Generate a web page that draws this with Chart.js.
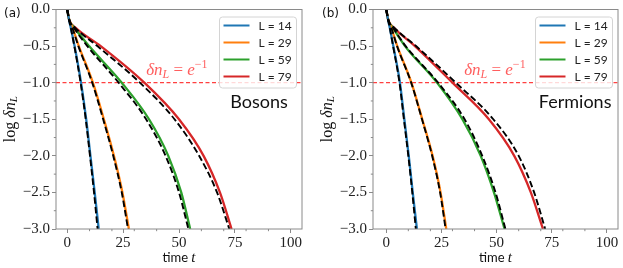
<!DOCTYPE html>
<html><head><meta charset="utf-8">
<script src="https://cdn.jsdelivr.net/npm/chart.js@4.4.1/dist/chart.umd.min.js"></script>
<style>
html,body{margin:0;padding:0;background:#fff;width:623px;height:268px;overflow:hidden}
canvas{position:absolute;top:0}
#ca{left:0}
#cb{left:311px}
</style></head><body>
<canvas id="ca" width="311" height="268"></canvas>
<canvas id="cb" width="312" height="268"></canvas>
<script>
// ---- data ----
const LEVELS = [0, -0.15, -0.25, -0.5, -1, -1.5, -2, -2.5, -3];   // log δn_L
const SERIES_LABELS = ['L = 14', 'L = 29', 'L = 59', 'L = 79'];
const SERIES_COLORS = ['#1f77b4', '#ff7f0e', '#2ca02c', '#d62728'];

// Bosons: time t at which each curve reaches LEVELS
const bosonT14 = [0, 0.9, 1.6, 3.3, 6.2, 8.5, 10.4, 12.3, 14.1];
const bosonT29 = [0, 1.0, 2.4, 5.2, 11.5, 16.4, 20.9, 24.7, 27.6];
const bosonT59 = [0, 1.0, 3.2, 9.8, 24.4, 36.6, 45.2, 51.0, 55.0];
const bosonT79 = [0, 1.0, 3.8, 15.0, 34.5, 50.0, 61.0, 68.3, 73.5];
const bosonFitT14 = [0, 0.9, 1.6, 3.2, 6.0, 8.3, 10.2, 12.0, 13.6];
const bosonFitT29 = [0, 1.0, 2.3, 5.0, 11.2, 16.1, 20.6, 24.4, 27.2];
const bosonFitT59 = [0, 1.0, 3.0, 9.0, 23.0, 35.3, 44.0, 50.0, 54.2];
const bosonFitT79 = [0, 1.0, 3.6, 13.5, 32.5, 48.0, 59.0, 67.0, 72.5];

// Fermions
const fermionT14 = [0, 0.9, 1.6, 3.2, 6.2, 8.2, 10.2, 12.0, 13.9];
const fermionT29 = [0, 1.0, 2.3, 5.0, 11.4, 16.3, 21.0, 24.6, 27.2];
const fermionT59 = [0, 1.0, 3.0, 8.5, 23.0, 34.5, 42.8, 48.8, 53.6];
const fermionT79 = [0, 1.0, 3.5, 13.0, 30.0, 46.5, 58.0, 65.5, 71.0];
const fermionFitT14 = [0, 0.9, 1.6, 3.1, 6.0, 8.0, 10.0, 11.8, 13.4];
const fermionFitT29 = [0, 1.0, 2.3, 4.9, 11.3, 16.2, 20.8, 24.4, 26.9];
const fermionFitT59 = [0, 1.0, 3.1, 8.8, 23.5, 35.5, 43.5, 49.5, 54.0];
const fermionFitT79 = [0, 1.0, 3.7, 13.5, 31.5, 48.5, 60.0, 67.0, 72.0];

const THRESHOLD = -1;                 // log(e^-1)
const X_TICKS = [0, 25, 50, 75, 100];
const X_MINOR = [10, 20, 30, 40, 60, 70, 80, 90];
const Y_TICKS = [0, -0.5, -1, -1.5, -2, -2.5, -3];
const Y_MINOR = [-0.25, -0.75, -1.25, -1.75, -2.25, -2.75];

// ---- drawing ----
const SPINE = '#8a8a8a';
const SERIF = '"Liberation Serif", serif';
const SANS = 'Lato, "DejaVu Sans", sans-serif';

function drawRich(ctx, parts, x, y, align) {
  let w = 0;
  parts.forEach(p => { ctx.font = p.font; w += ctx.measureText(p.t).width; });
  let cx = align === 'center' ? x - w / 2 : (align === 'right' ? x - w : x);
  parts.forEach(p => {
    ctx.font = p.font;
    ctx.fillText(p.t, cx, y + (p.dy || 0));
    cx += ctx.measureText(p.t).width;
  });
}

const decor = {
  id: 'decor',
  afterDatasetsDraw(chart, args, o) {
    const ctx = chart.ctx, a = chart.chartArea;
    const xs = chart.scales.x, ys = chart.scales.y;
    ctx.save();
    // frame (spines)
    ctx.strokeStyle = SPINE; ctx.lineWidth = 1;
    ctx.strokeRect(a.left, a.top, a.right - a.left, a.bottom - a.top);
    // minor ticks
    ctx.beginPath();
    Y_MINOR.forEach(v => { const p = ys.getPixelForValue(v); ctx.moveTo(a.left, p); ctx.lineTo(a.left - 2.2, p); });
    X_MINOR.forEach(v => { const p = xs.getPixelForValue(v); ctx.moveTo(p, a.bottom); ctx.lineTo(p, a.bottom + 2.2); });
    ctx.stroke();

    // threshold label
    ctx.fillStyle = 'rgba(255,40,40,0.75)';
    ctx.textBaseline = 'alphabetic';
    const tx = xs.getPixelForValue(35.3), ty = ys.getPixelForValue(-0.89);
    drawRich(ctx, [
      {t: 'δn', font: 'italic 17px ' + SERIF},
      {t: 'L', font: 'italic 12px ' + SERIF, dy: 3},
      {t: ' = ', font: '17px ' + SERIF},
      {t: 'e', font: 'italic 17px ' + SERIF},
      {t: '−1', font: '12px ' + SERIF, dy: -7}
    ], tx, ty, 'left');

    // legend
    const lw = 77, lh = 71;
    const lx = a.right - 6 - lw, ly = a.top + 7;
    ctx.beginPath();
    ctx.roundRect(lx + 0.5, ly + 0.5, lw, lh, 3);
    ctx.fillStyle = 'rgba(255,255,255,0.8)';
    ctx.fill();
    ctx.strokeStyle = '#d4d4d4'; ctx.lineWidth = 1; ctx.stroke();
    ctx.textBaseline = 'middle';
    ctx.font = '12px ' + SANS;
    SERIES_LABELS.forEach((lab, i) => {
      const ry = ly + 9 + i * 17;
      ctx.strokeStyle = SERIES_COLORS[i]; ctx.lineWidth = 2;
      ctx.beginPath(); ctx.moveTo(lx + 4.5, ry); ctx.lineTo(lx + 30.5, ry); ctx.stroke();
      ctx.fillStyle = '#222';
      ctx.fillText(lab, lx + 39.5, ry + 0.5);
    });

    // panel name
    ctx.fillStyle = '#111';
    ctx.textBaseline = 'alphabetic';
    ctx.textAlign = 'center';
    ctx.font = '18px ' + SANS;
    ctx.fillText(o.name, a.left + 0.825 * (a.right - a.left), a.top + 98.5);
    ctx.textAlign = 'left';

    // panel letter
    ctx.font = '12px "DejaVu Sans", sans-serif';
    ctx.textBaseline = 'middle';
    ctx.fillText(o.letter, o.letterX, 14);

    // x title
    ctx.textBaseline = 'alphabetic';
    drawRich(ctx, [
      {t: 'time ', font: '13px ' + SANS},
      {t: 't', font: 'italic 15px ' + SERIF}
    ], (a.left + a.right) / 2, 262, 'center');

    // y title (rotated)
    ctx.translate(o.yTitleX, (a.top + a.bottom) / 2);
    ctx.rotate(-Math.PI / 2);
    ctx.textBaseline = 'middle';
    drawRich(ctx, [
      {t: 'log ', font: '16px ' + SERIF},
      {t: 'δn', font: 'italic 16px ' + SERIF},
      {t: 'L', font: 'italic 11px ' + SERIF, dy: 3.5}
    ], 0, 0, 'center');
    ctx.restore();
  }
};

function pts(ts) { return ts.map((t, i) => ({x: t, y: LEVELS[i]})); }

function makeChart(canvas, solid, fits, cfg) {
  const datasets = [];
  solid.forEach((ts, i) => datasets.push({
    label: SERIES_LABELS[i], data: pts(ts), borderColor: SERIES_COLORS[i],
    borderWidth: 2.3, pointRadius: 0, cubicInterpolationMode: 'monotone', order: 2
  }));
  fits.forEach(ts => datasets.push({
    label: 'fit', data: pts(ts), borderColor: '#000', borderDash: [6.5, 3],
    borderWidth: 1.9, pointRadius: 0, cubicInterpolationMode: 'monotone', order: 1
  }));
  datasets.push({
    label: 'threshold', data: [{x: cfg.xMin, y: THRESHOLD}, {x: cfg.xMax, y: THRESHOLD}],
    borderColor: 'rgba(255,0,0,0.75)', borderDash: [4, 2.5], borderWidth: 1.2,
    pointRadius: 0, order: 3
  });
  return new Chart(canvas, {
    type: 'line',
    data: {datasets},
    options: {
      responsive: false, animation: false, devicePixelRatio: 1,
      layout: {padding: {left: 0, right: cfg.rightPad, top: 8, bottom: 0}, autoPadding: false},
      plugins: {legend: {display: false}, tooltip: {enabled: false},
        decor: {name: cfg.name, letter: cfg.letter, letterX: cfg.letterX, yTitleX: cfg.yTitleX}},
      scales: {
        x: {
          type: 'linear', min: cfg.xMin, max: cfg.xMax,
          afterBuildTicks: s => { s.ticks = X_TICKS.map(v => ({value: v})); },
          afterFit: s => { s.height = 39; },
          ticks: {font: {family: SERIF, size: 15, lineHeight: 1}, color: '#222', padding: 3,
            maxRotation: 0, autoSkip: false, callback: v => String(v)},
          grid: {drawOnChartArea: false, drawTicks: true, tickLength: 4, color: SPINE},
          border: {display: false}
        },
        y: {
          type: 'linear', min: -3, max: 0,
          afterBuildTicks: s => { s.ticks = Y_TICKS.map(v => ({value: v})); },
          afterFit: s => { s.width = cfg.yWidth; },
          ticks: {font: {family: SERIF, size: 15, lineHeight: 1}, color: '#222', padding: 2,
            autoSkip: false, callback: v => (v < 0 ? '\u2212' : '') + Math.abs(v).toFixed(1)},
          grid: {drawOnChartArea: false, drawTicks: true, tickLength: 4, color: SPINE},
          border: {display: false}
        }
      }
    },
    plugins: [decor]
  });
}

makeChart(document.getElementById('ca'),
  [bosonT14, bosonT29, bosonT59, bosonT79],
  [bosonFitT14, bosonFitT29, bosonFitT59, bosonFitT79],
  {xMin: -5, xMax: 105, rightPad: 9, yWidth: 56, name: 'Bosons', letter: '(a)', letterX: 4, yTitleX: 11});
makeChart(document.getElementById('cb'),
  [fermionT14, fermionT29, fermionT59, fermionT79],
  [fermionFitT14, fermionFitT29, fermionFitT59, fermionFitT79],
  {xMin: -6, xMax: 105, rightPad: 5, yWidth: 62, name: 'Fermions', letter: '(b)', letterX: 11, yTitleX: 17});
</script>
</body></html>
